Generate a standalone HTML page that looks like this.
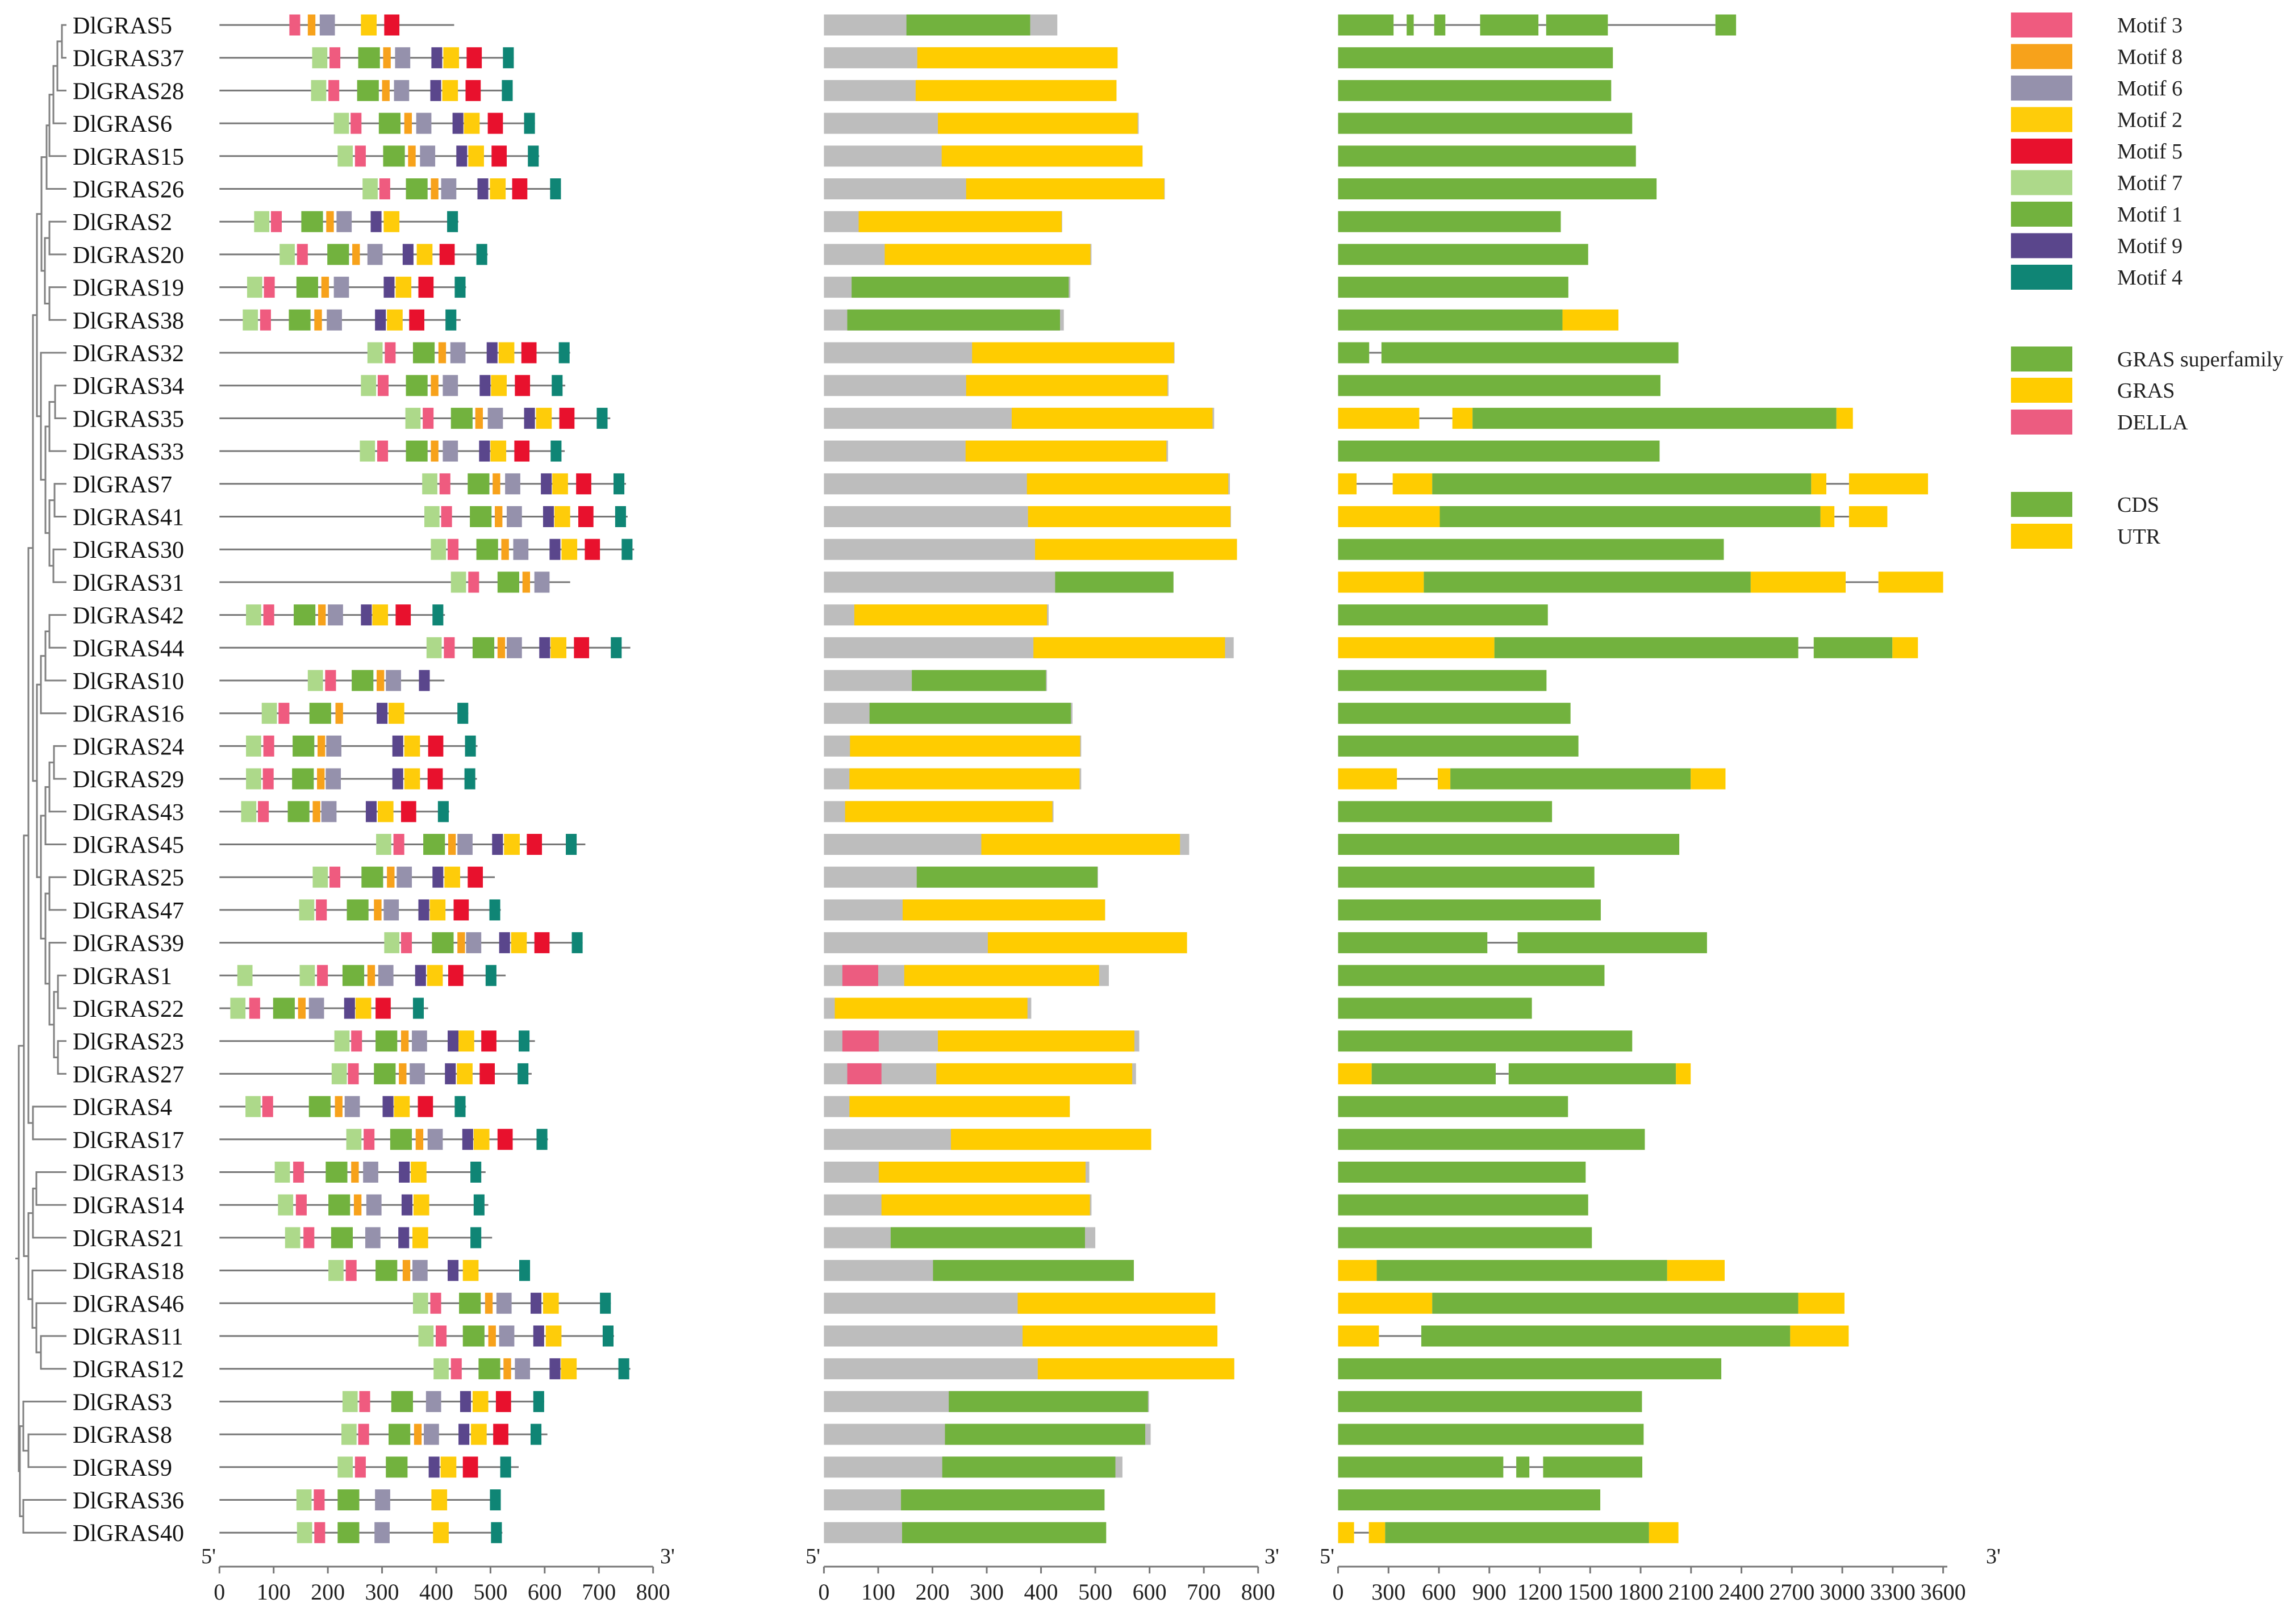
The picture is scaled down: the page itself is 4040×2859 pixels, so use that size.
<!DOCTYPE html>
<html><head><meta charset="utf-8"><title>DlGRAS gene family</title>
<style>
html,body{margin:0;padding:0;background:#fff;}
svg{display:block;font-family:"Liberation Serif",serif;}
</style></head>
<body>
<svg id="fig" xmlns="http://www.w3.org/2000/svg" width="4040" height="2859" viewBox="0 0 4040 2859">
  <g id="tree"></g>
  <g id="labels"></g>
  <g id="motifs"></g>
  <g id="proteins"></g>
  <g id="genes"></g>
  <g id="axes"></g>
  <g id="legend"></g>
</svg>
<script>
const names = ["DlGRAS5","DlGRAS37","DlGRAS28","DlGRAS6","DlGRAS15","DlGRAS26","DlGRAS2","DlGRAS20","DlGRAS19","DlGRAS38","DlGRAS32","DlGRAS34","DlGRAS35","DlGRAS33","DlGRAS7","DlGRAS41","DlGRAS30","DlGRAS31","DlGRAS42","DlGRAS44","DlGRAS10","DlGRAS16","DlGRAS24","DlGRAS29","DlGRAS43","DlGRAS45","DlGRAS25","DlGRAS47","DlGRAS39","DlGRAS1","DlGRAS22","DlGRAS23","DlGRAS27","DlGRAS4","DlGRAS17","DlGRAS13","DlGRAS14","DlGRAS21","DlGRAS18","DlGRAS46","DlGRAS11","DlGRAS12","DlGRAS3","DlGRAS8","DlGRAS9","DlGRAS36","DlGRAS40"];
const motifSeqLen = [433,543,540,582,590,630,441,495,455,445,647,638,721,637,750,753,765,647,416,758,415,459,476,475,424,675,508,519,670,528,385,582,576,455,606,491,496,503,572,722,728,758,599,605,552,519,522];
const motifHits = [
[[3,129],[8,163],[6,185],[2,261],[5,304]],
[[7,171],[3,203],[1,256],[8,302],[6,324],[9,391],[2,413],[5,456],[4,523]],
[[7,169],[3,201],[1,254],[8,300],[6,322],[9,389],[2,411],[5,454],[4,521]],
[[7,211],[3,242],[1,294],[8,341],[6,363],[9,430],[2,451],[5,495],[4,562]],
[[7,218],[3,250],[1,302],[8,348],[6,370],[9,437],[2,459],[5,502],[4,569]],
[[7,264],[3,295],[1,344],[8,390],[6,409],[9,476],[2,499],[5,540],[4,610]],
[[7,64],[3,95],[1,151],[8,197],[6,216],[9,279],[2,303],[4,420]],
[[7,111],[3,143],[1,199],[8,245],[6,273],[9,338],[2,364],[5,406],[4,474]],
[[7,51],[3,82],[1,142],[8,188],[6,211],[9,303],[2,325],[5,367],[4,434]],
[[7,43],[3,75],[1,128],[8,175],[6,198],[9,287],[2,309],[5,350],[4,417]],
[[7,273],[3,305],[1,357],[8,404],[6,426],[9,493],[2,515],[5,557],[4,626]],
[[7,261],[3,292],[1,344],[8,390],[6,412],[9,480],[2,501],[5,545],[4,613]],
[[7,343],[3,375],[1,427],[8,472],[6,495],[9,562],[2,584],[5,627],[4,696]],
[[7,259],[3,291],[1,344],[8,390],[6,412],[9,479],[2,500],[5,544],[4,611]],
[[7,374],[3,406],[1,458],[8,504],[6,527],[9,593],[2,614],[5,658],[4,727]],
[[7,378],[3,409],[1,462],[8,508],[6,530],[9,597],[2,618],[5,662],[4,730]],
[[7,390],[3,421],[1,474],[8,520],[6,542],[9,609],[2,631],[5,674],[4,742]],
[[7,427],[3,459],[1,513],[8,559],[6,581]],
[[7,49],[3,81],[1,137],[8,182],[6,200],[9,261],[2,282],[5,325],[4,393]],
[[7,382],[3,414],[1,467],[8,513],[6,530],[9,590],[2,611],[5,654],[4,722]],
[[7,163],[3,195],[1,244],[8,290],[6,307],[9,368]],
[[7,78],[3,109],[1,166],[8,214],[9,290],[2,312],[4,439]],
[[7,49],[3,81],[1,135],[8,181],[6,197],[9,319],[2,341],[5,385],[4,453]],
[[7,49],[3,80],[1,134],[8,180],[6,196],[9,319],[2,341],[5,384],[4,452]],
[[7,40],[3,71],[1,126],[8,172],[6,188],[9,270],[2,292],[5,335],[4,403]],
[[7,289],[3,321],[1,376],[8,422],[6,439],[9,503],[2,525],[5,567],[4,639]],
[[7,172],[3,203],[1,262],[8,309],[6,327],[9,393],[2,415],[5,458]],
[[7,147],[3,178],[1,235],[8,285],[6,303],[9,367],[2,388],[5,432],[4,498]],
[[7,304],[3,335],[1,392],[8,439],[6,455],[9,516],[2,538],[5,581],[4,650]],
[[7,33],[7,148],[3,180],[1,227],[8,273],[6,293],[9,361],[2,383],[5,422],[4,491]],
[[7,20],[3,55],[1,99],[8,145],[6,165],[9,230],[2,251],[5,288],[4,357]],
[[7,212],[3,243],[1,288],[8,335],[6,355],[9,421],[2,441],[5,483],[4,552]],
[[7,207],[3,237],[1,285],[8,331],[6,351],[9,416],[2,438],[5,480],[4,550]],
[[7,48],[3,79],[1,165],[8,213],[6,231],[9,301],[2,322],[5,366],[4,434]],
[[7,234],[3,266],[1,315],[8,362],[6,384],[9,448],[2,469],[5,513],[4,585]],
[[7,102],[3,136],[1,196],[8,243],[6,265],[9,331],[2,353],[4,463]],
[[7,108],[3,141],[1,201],[8,248],[6,271],[9,336],[2,358],[4,469]],
[[7,121],[3,155],[1,206],[6,269],[9,330],[2,356],[4,463]],
[[7,201],[3,233],[1,288],[8,338],[6,356],[9,421],[2,449],[4,553]],
[[7,357],[3,389],[1,442],[8,490],[6,511],[9,574],[2,597],[4,702]],
[[7,367],[3,399],[1,449],[8,496],[6,516],[9,579],[2,602],[4,707]],
[[7,395],[3,427],[1,478],[8,524],[6,545],[9,609],[2,630],[4,736]],
[[7,227],[3,258],[1,317],[6,381],[9,444],[2,467],[5,510],[4,579]],
[[7,225],[3,256],[1,312],[8,359],[6,377],[9,441],[2,464],[5,505],[4,574]],
[[7,218],[3,250],[1,307],[9,386],[2,408],[5,449],[4,518]],
[[7,142],[3,174],[1,218],[6,287],[2,391],[4,499]],
[[7,143],[3,175],[1,218],[6,286],[2,394],[4,501]]
];
const motifWidthAA = {1:40,2:29,3:20,4:20,5:28,6:28,7:28,8:14,9:20};
const protLen = [430,541,539,580,587,628,439,493,454,442,646,635,719,634,748,750,761,644,414,755,411,458,474,474,423,673,505,518,669,525,382,581,575,453,603,489,493,500,571,721,725,756,599,602,550,517,520];
const domType = ["S","G","G","G","G","G","G","G","S","S","G","G","G","G","G","G","G","S","G","G","S","S","G","G","G","G","S","G","G","G","G","G","G","G","G","G","G","S","S","G","G","G","S","S","S","S","S"];
const domStart = [152,172,169,210,217,262,64,112,51,43,273,262,346,261,374,376,389,426,56,386,162,84,48,47,39,290,171,145,302,148,20,210,207,47,234,101,106,123,201,357,366,394,230,223,218,142,144];
const domEnd = [380,541,539,578,587,627,438,491,451,435,645,633,716,631,745,749,761,644,411,739,409,455,472,471,421,656,504,518,669,507,375,572,568,453,603,482,490,481,571,721,725,756,597,592,537,517,520];
const dellaRow = [29,31,32];
const dellaStart = [34,34,43];
const dellaEnd = [100,101,106];
const geneSegs = [
[[0,330,"C"],[408,450,"C"],[572,638,"C"],[845,1192,"C"],[1238,1605,"C"],[2245,2368,"C"]],
[[0,1635,"C"]],[[0,1625,"C"]],[[0,1750,"C"]],[[0,1772,"C"]],[[0,1895,"C"]],[[0,1325,"C"]],[[0,1488,"C"]],[[0,1370,"C"]],
[[0,1335,"C"],[1335,1668,"U"]],
[[0,185,"C"],[258,2025,"C"]],
[[0,1918,"C"]],
[[0,483,"U"],[680,800,"U"],[800,2965,"C"],[2965,3063,"U"]],
[[0,1913,"C"]],
[[0,110,"U"],[325,560,"U"],[560,2815,"C"],[2815,2905,"U"],[3040,3510,"U"]],
[[0,605,"U"],[605,2870,"C"],[2870,2953,"U"],[3040,3268,"U"]],
[[0,2295,"C"]],
[[0,510,"U"],[510,2455,"C"],[2455,3020,"U"],[3215,3600,"U"]],
[[0,1248,"C"]],
[[0,930,"U"],[930,2738,"C"],[2830,3298,"C"],[3298,3450,"U"]],
[[0,1240,"C"]],[[0,1383,"C"]],[[0,1430,"C"]],
[[0,350,"U"],[593,668,"U"],[668,2098,"C"],[2098,2305,"U"]],
[[0,1273,"C"]],[[0,2030,"C"]],[[0,1525,"C"]],[[0,1563,"C"]],
[[0,888,"C"],[1068,2195,"C"]],
[[0,1585,"C"]],[[0,1153,"C"]],[[0,1750,"C"]],
[[0,200,"U"],[200,938,"C"],[1015,2010,"C"],[2010,2098,"U"]],
[[0,1368,"C"]],[[0,1825,"C"]],[[0,1473,"C"]],[[0,1488,"C"]],[[0,1510,"C"]],
[[0,230,"U"],[230,1958,"C"],[1958,2300,"U"]],
[[0,560,"U"],[560,2738,"C"],[2738,3013,"U"]],
[[0,243,"U"],[495,2690,"C"],[2690,3038,"U"]],
[[0,2280,"C"]],[[0,1808,"C"]],[[0,1818,"C"]],
[[0,983,"C"],[1060,1138,"C"],[1220,1810,"C"]],
[[0,1560,"C"]],
[[0,95,"U"],[183,280,"U"],[280,1850,"C"],[1850,2025,"U"]]
];
const aaTicks = [0,100,200,300,400,500,600,700,800];
const bpTicks = [0,300,600,900,1200,1500,1800,2100,2400,2700,3000,3300,3600];
const motifLegendIds = [3,8,6,2,5,7,1,9,4];
const tree = [33,[42,[50,[58,[65,[73,[82,[87,[94,[101,[109,0,1],2],3],4],5],[79,[87,6,7],[87,8,9]]],[72,10,[80,[87,[97,11,12],13],[87,[96,14,15],[94,16,17]]]]],[65,[72,[80,[87,18,19],20],21],[72,[80,[87,[95,22,23],24],25],[80,[87,26,27],[87,28,[95,[102,29,30],[102,31,32]]]]]]],[58,33,34]],[50,[58,[64,35,36],37],[57,38,[64,39,[72,40,41]]]]],[35,[41,42,[50,43,44]],[41,45,46]]];

const NS = "http://www.w3.org/2000/svg";
const motifColor = {1:"#72b23e",2:"#fecc0a",3:"#ef5b7f",4:"#0f8575",5:"#e8112d",6:"#9591ac",7:"#add98a",8:"#f7a21b",9:"#5a468c"};
const GREEN="#72b23e", YELLOW="#ffcc00", GREY="#bdbdbd", DELLA="#ec5c80";
const rowY = i => 44 + i*57.7;
const BH = 37;
const xMotif = aa => 386.3 + aa*0.9542;
const xProt = aa => 1450.4 + aa*0.9554;
const xGene = bp => 2355.5 + bp*0.29586;
const xTree = v => v*1.0;
const AXIS_Y = 2758;

function mk(tag, attrs, parent){
  const el = document.createElementNS(NS, tag);
  for (const k in attrs) el.setAttribute(k, attrs[k]);
  parent.appendChild(el);
  return el;
}
const gTree = document.getElementById("tree");
const gLab = document.getElementById("labels");
const gMot = document.getElementById("motifs");
const gPro = document.getElementById("proteins");
const gGen = document.getElementById("genes");
const gAx = document.getElementById("axes");
const gLeg = document.getElementById("legend");

// tree
function drawNode(n){
  if (typeof n === "number"){
    const y = rowY(n);
    return {y:y, x:117};
  }
  const x = xTree(n[0]);
  const kids = n.slice(1).map(drawNode);
  kids.forEach(k=>{
    const h = mk("line",{x1:x,y1:k.y,x2:k.x,y2:k.y,stroke:"#808080","stroke-width":3},gTree);
    
    
  });
  const ys = kids.map(k=>k.y);
  const v = mk("line",{x1:x,y1:Math.min(...ys)-1.5,x2:x,y2:Math.max(...ys)+1.5,stroke:"#808080","stroke-width":3},gTree);
  
  
  return {x:x, y:(Math.min(...ys)+Math.max(...ys))/2};
}
const rootInfo = drawNode(tree);
const stub = mk("line",{x1:rootInfo.x-6,y1:rootInfo.y,x2:rootInfo.x,y2:rootInfo.y,stroke:"#808080","stroke-width":3},gTree);



names.forEach((nm,i)=>{
  const y = rowY(i);
  const t = mk("text",{x:128,y:y+15,"font-size":42,fill:"#111"},gLab);
  t.textContent = nm;
  
  

  // motif backbone
  const ln = mk("line",{x1:xMotif(0),y1:y,x2:xMotif(motifSeqLen[i]),y2:y,stroke:"#777","stroke-width":3},gMot);
  
  
  motifHits[i].forEach(h=>{
    const x0 = xMotif(h[1]), x1 = xMotif(h[1]+motifWidthAA[h[0]]);
    const r = mk("rect",{x:x0,y:y-BH/2,width:x1-x0,height:BH,fill:motifColor[h[0]]},gMot);
    
    
  });

  // protein domain
  const pb = mk("rect",{x:xProt(0),y:y-BH/2,width:xProt(protLen[i])-xProt(0),height:BH,fill:GREY},gPro);
  
  
  const dm = mk("rect",{x:xProt(domStart[i]),y:y-BH/2,width:xProt(domEnd[i])-xProt(domStart[i]),height:BH,fill:domType[i]==="S"?GREEN:YELLOW},gPro);
  
  

  // gene structure
  const segs = geneSegs[i];
  for (let k=1;k<segs.length;k++){
    if (segs[k][0] > segs[k-1][1]){
      const il = mk("line",{x1:xGene(segs[k-1][1]),y1:y,x2:xGene(segs[k][0]),y2:y,stroke:"#777","stroke-width":3},gGen);
      
      
    }
  }
  segs.forEach(s=>{
    const r = mk("rect",{x:xGene(s[0]),y:y-BH/2,width:xGene(s[1])-xGene(s[0]),height:BH,fill:s[2]==="C"?GREEN:YELLOW},gGen);
    
    
  });
});
dellaRow.forEach((ri,k)=>{
  const y = rowY(ri);
  const r = mk("rect",{x:xProt(dellaStart[k]),y:y-BH/2,width:xProt(dellaEnd[k])-xProt(dellaStart[k]),height:BH,fill:DELLA},gPro);
  
  
});

// axes
function axis(xf, ticks, endX, x5, x3, nm){
  const a = mk("line",{x1:xf(0),y1:AXIS_Y,x2:endX,y2:AXIS_Y,stroke:"#777","stroke-width":3},gAx);
  
  
  ticks.forEach(v=>{
    const tk = mk("line",{x1:xf(v),y1:AXIS_Y,x2:xf(v),y2:AXIS_Y+12,stroke:"#777","stroke-width":3},gAx);
    
    
    const tl = mk("text",{x:xf(v),y:AXIS_Y+58,"font-size":40,"text-anchor":"middle",fill:"#222"},gAx);
    tl.textContent = v;
    
    
  });
  const t5 = mk("text",{x:x5,y:AXIS_Y-6,"font-size":38,"text-anchor":"end",fill:"#222"},gAx);
  t5.textContent = "5'";
  
  
  const t3 = mk("text",{x:x3,y:AXIS_Y-6,"font-size":38,fill:"#222"},gAx);
  t3.textContent = "3'";
  
  
}
axis(xMotif, aaTicks, xMotif(800), 380, 1162, 'motif');
axis(xProt, aaTicks, xProt(800), 1444, 2226, 'protein');
axis(xGene, bpTicks, 3428, 2349, 3496, 'gene');

// legend
const legendItems = [];
motifLegendIds.forEach((m,i)=>legendItems.push([22+i*55.5, motifColor[m], "Motif "+m]));
legendItems.push([610, GREEN, "GRAS superfamily"]);
legendItems.push([665, YELLOW, "GRAS"]);
legendItems.push([721, DELLA, "DELLA"]);
legendItems.push([866, GREEN, "CDS"]);
legendItems.push([922, YELLOW, "UTR"]);
legendItems.forEach(it=>{
  const r = mk("rect",{x:3540,y:it[0],width:108,height:44,fill:it[1]},gLeg);
  
  
  const t = mk("text",{x:3727,y:it[0]+35,"font-size":38,fill:"#222"},gLeg);
  t.textContent = it[2];
  
  
});
</script>
</body></html>
